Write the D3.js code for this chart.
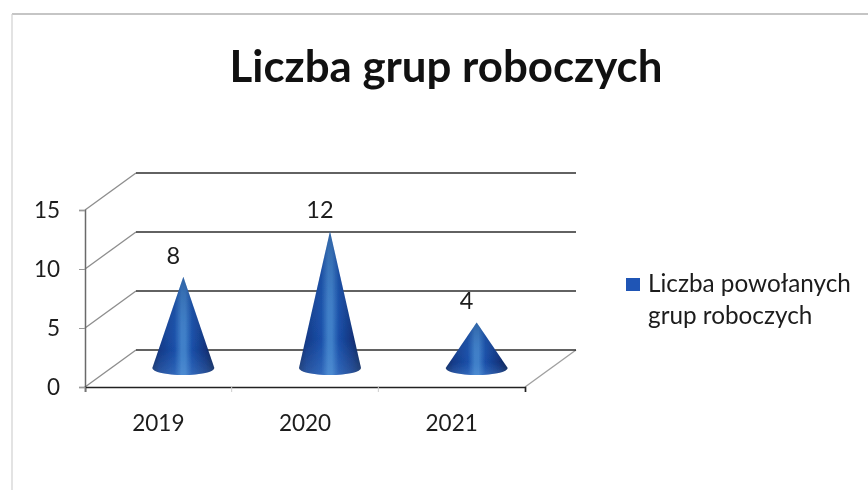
<!DOCTYPE html>
<html><head><meta charset="utf-8">
<script src="https://cdn.jsdelivr.net/npm/d3@7/dist/d3.min.js"></script>
<style>html,body{margin:0;padding:0;background:#fff}svg{display:block}text{font-family:Lato,"Open Sans",sans-serif;fill:#1c1c1c}</style>
</head><body><svg id="c" width="868" height="490"></svg>
<script>
const titleText = "Liczba grup roboczych";
const categories = ["2019","2020","2021"];
const values = [8,12,4];
const yTicks = [0,5,10,15];
const legendLines = ["Liczba powołanych","grup roboczych"];

const W=868,H=490;
const svg=d3.select("#c");
const depth={dx:51,dy:-37};
const mid={dx:25,dy:-19};
const x=d3.scaleBand().domain(categories).range([85,525]).paddingInner(0).paddingOuter(0);
const y=d3.scaleLinear().domain([0,15]).range([387,210]);
const coneY=d3.scaleLinear().domain([0,15]).range([368,197]);
const soft=svg.append("defs");
const f=soft.append("filter").attr("id","soft").attr("x","-5%").attr("y","-5%").attr("width","110%").attr("height","110%");
f.append("feGaussianBlur").attr("stdDeviation",0.6);
const g=soft.append("linearGradient").attr("id","cone");
[[0,"#10285f"],[0.12,"#143a88"],[0.36,"#1a4fa8"],[0.47,"#3f7fc8"],[0.53,"#3f7fc8"],[0.64,"#1a4fa8"],[0.86,"#12337c"],[1,"#0c2150"]]
 .forEach(d=>g.append("stop").attr("offset",d[0]).attr("stop-color",d[1]));
const gb=soft.append("linearGradient").attr("id","shade").attr("x1",0).attr("x2",0).attr("y1",0).attr("y2",1);
[[0,"#0a2050",0.3],[0.75,"#5b9ae0",0],[1,"#6fa8e8",0.28]].forEach(d=>gb.append("stop").attr("offset",d[0]).attr("stop-color",d[1]).attr("stop-opacity",d[2]));

// page frame
const frame=svg.append("g").attr("filter","url(#soft)");
frame.append("line").attr("x1",12).attr("x2",W).attr("y1",14).attr("y2",14).attr("stroke","#8c8c8c").attr("stroke-width",1.2);
frame.append("line").attr("x1",12).attr("x2",12).attr("y1",14).attr("y2",H).attr("stroke","#d0d0d0").attr("stroke-width",1.2);

const plot=svg.append("g").attr("filter","url(#soft)");
// side wall and floor
plot.selectAll(".side").data(yTicks).join("line").attr("class","side")
 .attr("x1",x.range()[0]).attr("y1",d=>y(d))
 .attr("x2",x.range()[0]+depth.dx).attr("y2",d=>y(d)+depth.dy)
 .attr("stroke","#8e8e8e").attr("stroke-width",1.4);
plot.append("line").attr("x1",x.range()[1]).attr("y1",y(0))
 .attr("x2",x.range()[1]+depth.dx).attr("y2",y(0)+depth.dy)
 .attr("stroke","#a0a0a0").attr("stroke-width",1.4);
// back grid
plot.selectAll(".grid").data(yTicks).join("line").attr("class","grid")
 .attr("x1",x.range()[0]+depth.dx).attr("y1",d=>y(d)+depth.dy)
 .attr("x2",x.range()[1]+depth.dx).attr("y2",d=>y(d)+depth.dy)
 .attr("stroke","#2e2e2e").attr("stroke-width",1.7);
// axes
const ax=plot.append("g").attr("transform","translate(85,0)")
 .call(d3.axisLeft(y).tickValues(yTicks).tickSize(6).tickPadding(19));
ax.selectAll("path").attr("stroke","#6a6a6a").attr("stroke-width",1.5);
ax.selectAll("line").attr("stroke","#999").attr("stroke-width",1);
const bx=plot.append("g").attr("transform",`translate(0,${y(0)})`)
 .call(d3.axisBottom(x).tickSize(5).tickPadding(23));
bx.select("path").attr("stroke","#222").attr("stroke-width",1.7);
bx.selectAll("line").attr("transform",`translate(${-x.bandwidth()/2},0)`).attr("stroke","#ccc");
svg.selectAll(".tick text").style("font-size","22.5px").style("fill","#1c1c1c");

// cones
const halfW=31, ry=7;
const cones=plot.selectAll(".cone").data(categories.map((c,i)=>({c,v:values[i]}))).join("g").attr("class","cone");
const conePath=d=>{
 const cx=x(d.c)+x.bandwidth()/2+mid.dx, by=coneY(0), ty=coneY(d.v);
 return `M${cx-halfW},${by}L${cx},${ty}L${cx+halfW},${by}A${halfW},${ry} 0 0 1 ${cx-halfW},${by}Z`;
};
cones.append("path").attr("d",conePath).attr("fill","url(#cone)");
cones.append("path").attr("d",conePath).attr("fill","url(#shade)");
// value labels
svg.selectAll(".val").data(categories.map((c,i)=>({c,v:values[i]}))).join("text").attr("class","val")
 .attr("x",d=>x(d.c)+x.bandwidth()/2+mid.dx-10)
 .attr("y",d=>coneY(d.v)-13)
 .attr("text-anchor","middle").style("font-size","23.5px").text(d=>d.v);

// title
svg.append("text").attr("x",446).attr("y",82).attr("text-anchor","middle")
 .style("font-size","43.8px").style("font-weight","700").style("fill","#111").text(titleText);
// legend
svg.append("rect").attr("x",626).attr("y",278).attr("width",14).attr("height",13).attr("fill","#1f55b5");
svg.selectAll(".leg").data(legendLines).join("text").attr("class","leg")
 .attr("x",648).attr("y",(d,i)=>292+i*32).style("font-size","24.3px").text(d=>d);
</script></body></html>
